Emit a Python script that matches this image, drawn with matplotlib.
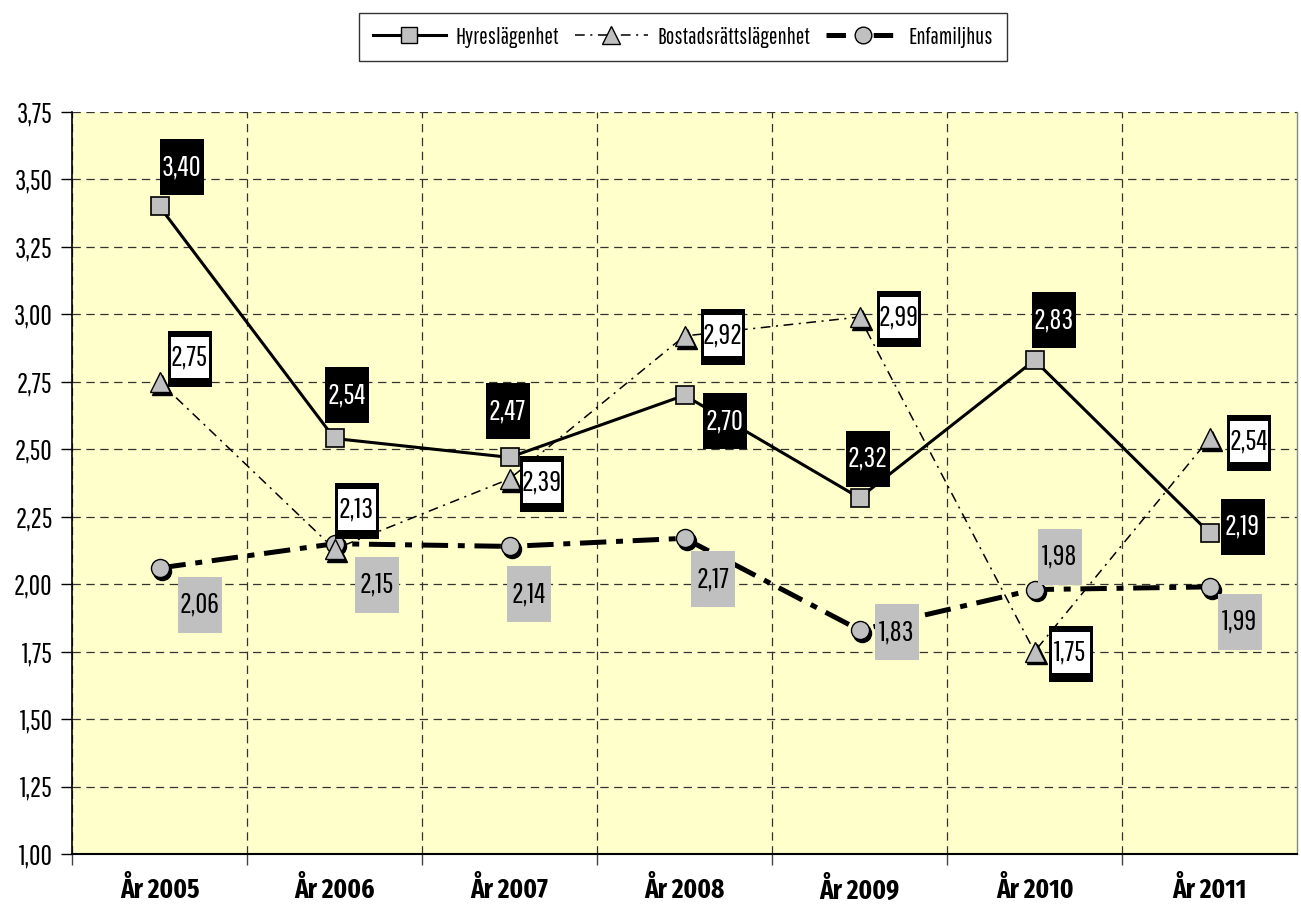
import matplotlib
matplotlib.use('Agg')
import matplotlib.pyplot as plt
import matplotlib.transforms as mtransforms
from matplotlib.patches import Rectangle
from matplotlib.lines import Line2D

REG = ['Pathway Gothic One', 'DejaVu Sans']
BOLD = ['Fira Sans Extra Condensed', 'Roboto Condensed', 'DejaVu Sans']
plt.rcParams['font.family'] = REG
plt.rcParams['lines.scale_dashes'] = False

categories = ['År 2005', 'År 2006', 'År 2007', 'År 2008', 'År 2009', 'År 2010', 'År 2011']
hyres = [3.40, 2.54, 2.47, 2.70, 2.32, 2.83, 2.19]
bostad = [2.75, 2.13, 2.39, 2.92, 2.99, 1.75, 2.54]
enfam = [2.06, 2.15, 2.14, 2.17, 1.83, 1.98, 1.99]
series_names = ['Hyreslägenhet', 'Bostadsrättslägenhet', 'Enfamiljhus']
yticks = [1.00, 1.25, 1.50, 1.75, 2.00, 2.25, 2.50, 2.75, 3.00, 3.25, 3.50, 3.75]

# label box offsets in pixels (right, up) from the data point
off_h = [(22, 39), (12, 43), (-2, 46), (40, -26), (8, 39), (19, 40), (33, 6)]
off_b = [(30, 23), (22, 38), (32, -5), (38, -1), (39, -2), (36, -2), (39, -5)]
off_e = [(40, -37), (42, -41), (19, -48), (28, -41), (37, -2), (25, 33), (30, -35)]

fig = plt.figure(figsize=(13.01, 9.14), dpi=100)
ax = fig.add_axes([72/1301, 60/914, (1297-72)/1301, (854-112)/914])
ax.set_facecolor('#FFFFCC')

x = list(range(len(categories)))
ax.set_xlim(-0.5, len(categories) - 0.5)
ax.set_ylim(yticks[0], yticks[-1])

# grid / ticks
ax.set_axisbelow(True)
ax.set_xticks([-0.5] + [i + 0.5 for i in range(len(categories) - 1)])
ax.set_xticklabels([])
ax.set_xticks(x, minor=True)
ax.set_xticklabels(categories, minor=True, fontsize=19.5, fontweight='bold', family=BOLD)
ax.tick_params(axis='x', which='minor', length=0, pad=16)
ax.tick_params(axis='x', which='major', length=8, width=1, color='#444444', direction='out')
ax.set_yticks(yticks)
ax.set_yticklabels([f"{v:.2f}".replace('.', ',') for v in yticks], fontsize=20)
ax.tick_params(axis='y', length=8, width=1, direction='out', pad=6)
ax.grid(True, which='major', color='#333333', linestyle=(0, (6, 4)), linewidth=0.9)

ax.spines['top'].set_visible(False)
ax.spines['right'].set_color('#888888')
ax.spines['right'].set_linewidth(1)
ax.spines['left'].set_linewidth(1.2)
ax.spines['bottom'].set_linewidth(1.5)

gray = '#C0C0C0'
shadow = ax.transData + mtransforms.ScaledTranslation(2/72, -2/72, fig.dpi_scale_trans)

# Enfamiljhus
ax.plot(x, enfam, color='black', lw=3.6, dashes=(19, 7, 5, 7), zorder=3)
ax.plot(x, enfam, 'o', color='black', ms=13, transform=shadow, zorder=4)
ax.plot(x, enfam, 'o', mfc=gray, mec='black', mew=1, ms=13, ls='none', zorder=5)
# Bostadsrätt
ax.plot(x, bostad, color='black', lw=1.1, dashes=(7, 4, 1.5, 4), zorder=3)
ax.plot(x, bostad, '^', color='black', ms=14, transform=shadow, zorder=4)
ax.plot(x, bostad, '^', mfc=gray, mec='black', mew=1, ms=14, ls='none', zorder=5)
# Hyres
ax.plot(x, hyres, color='black', lw=2.2, zorder=3)
ax.plot(x, hyres, 's', mfc=gray, mec='black', mew=1.2, ms=13.5, ls='none', zorder=5)


def label(xi, yi, off, val, kind):
    tr = fig.dpi_scale_trans + mtransforms.ScaledTranslation(xi, yi, ax.transData)
    w, h = 0.44, 0.56
    cx, cy = off[0] / 100, off[1] / 100
    txt = f"{val:.2f}".replace('.', ',')
    fs = 21
    if kind == 'black':
        ax.add_patch(Rectangle((cx - w/2, cy - h/2), w, h, fc='black', ec='none',
                               transform=tr, zorder=6, clip_on=False))
        ax.text(cx, cy, txt, color='white', fontsize=fs, ha='center', va='center',
                transform=tr, zorder=7)
    elif kind == 'white':
        ax.add_patch(Rectangle((cx - w/2, cy - h/2), w, h, fc='black', ec='none',
                               transform=tr, zorder=6, clip_on=False))
        sx, tp, bt = 0.03, 0.06, 0.09
        ax.add_patch(Rectangle((cx - w/2 + sx, cy - h/2 + bt), w - 2*sx, h - tp - bt,
                               fc='white', ec='none', transform=tr, zorder=6.5, clip_on=False))
        ax.text(cx, cy + (bt - tp)/2, txt, color='black', fontsize=fs, ha='center', va='center',
                transform=tr, zorder=7)
    else:
        ax.add_patch(Rectangle((cx - w/2, cy - h/2), w, h, fc=gray, ec='none',
                               transform=tr, zorder=6, clip_on=False))
        ax.text(cx, cy, txt, color='black', fontsize=fs, ha='center', va='center',
                transform=tr, zorder=7)


for i in x:
    label(i, hyres[i], off_h[i], hyres[i], 'black')
    label(i, bostad[i], off_b[i], bostad[i], 'white')
    label(i, enfam[i], off_e[i], enfam[i], 'gray')

handles = [
    Line2D([], [], color='black', lw=2.2, marker='s', mfc=gray, mec='black', ms=12),
    Line2D([], [], color='black', lw=1.1, dashes=(7, 4, 1.5, 4), marker='^', mfc=gray, mec='black', ms=13),
    Line2D([], [], color='black', lw=3.6, dashes=(14, 8, 4, 8), marker='o', mfc=gray, mec='black', ms=12),
]
leg = fig.legend(handles, series_names, loc='center', bbox_to_anchor=(683/1301, 1 - 37/914),
                 ncol=3, fontsize=16.5, frameon=True, fancybox=False, edgecolor='black',
                 handlelength=3.2, handletextpad=0.4, columnspacing=0.7, borderpad=0.6)
leg.get_frame().set_linewidth(1)

fig.savefig('out.png', dpi=100)
